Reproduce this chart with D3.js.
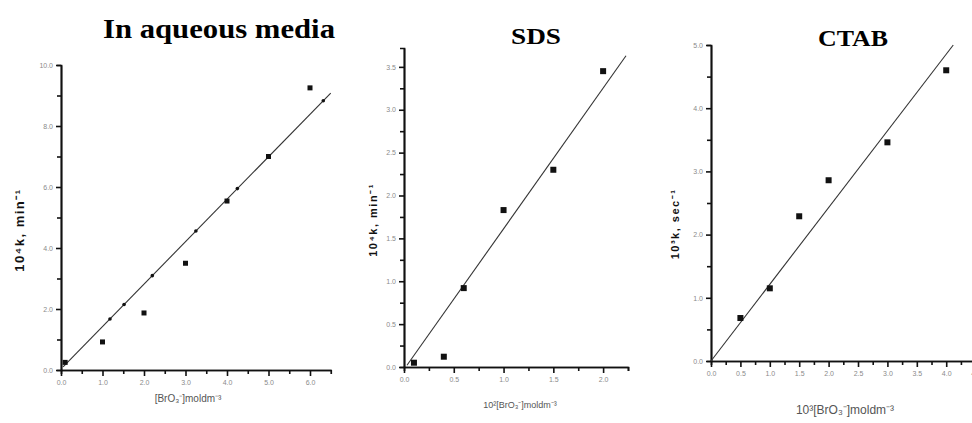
<!DOCTYPE html>
<html>
<head>
<meta charset="utf-8">
<style>
  body { margin: 0; background: #fff; }
  text { font-family: "Liberation Sans", Arial, sans-serif; }
</style>
</head>
<body>
<script src="https://d3js.org/d3.v7.min.js"></script>
<script>
    // aqueous media
    const aqX = [0.1, 1.0, 2.0, 3.0, 4.0, 5.0, 6.0];
    const aqY = [0.25, 0.92, 1.87, 3.5, 5.54, 7.0, 9.25];
    const aqFitX = [0.05, 6.5];
    const aqFitY = [0.1, 9.08];
    const aqFitDotsX = [1.18, 1.52, 2.2, 3.25, 4.25, 6.32];
    const aqXTicks = [0, 1, 2, 3, 4, 5, 6];
    const aqYTicks = [0, 2, 4, 6, 8, 10];

    // SDS
    const sdsX = [0.1, 0.4, 0.6, 1.0, 1.5, 2.0];
    const sdsY = [0.05, 0.12, 0.92, 1.83, 2.3, 3.45];
    const sdsFitX = [0.03, 2.23];
    const sdsFitY = [0.02, 3.63];
    const sdsXTicks = [0, 0.5, 1.0, 1.5, 2.0];
    const sdsYTicks = [0, 0.5, 1.0, 1.5, 2.0, 2.5, 3.0, 3.5];

    // CTAB
    const ctabX = [0.5, 1.0, 1.5, 2.0, 3.0, 4.0];
    const ctabY = [0.68, 1.15, 2.29, 2.86, 3.46, 4.6];
    const ctabFitX = [0, 4.12];
    const ctabFitY = [0, 5.0];
    const ctabXTicks = [0, 0.5, 1.0, 1.5, 2.0, 2.5, 3.0, 3.5, 4.0, 4.5];
    const ctabYTicks = [0, 1, 2, 3, 4, 5];

    const width = 972;
    const height = 423;

    const svg = d3.select("body")
        .append("svg")
        .attr("width", width)
        .attr("height", height);

    function panel(p) {
        const xScale = d3.scaleLinear().domain(p.xDomain).range(p.xRange);
        const yScale = d3.scaleLinear().domain(p.yDomain).range(p.yRange);
        const g = svg.append("g");

        // minor ticks
        const xAxisMinor = d3.axisBottom(xScale).tickValues(p.xMinor).tickSize(4).tickFormat("");
        const yAxisMinor = d3.axisLeft(yScale).tickValues(p.yMinor).tickSize(4).tickFormat("");
        const xAxis = d3.axisBottom(xScale).tickValues(p.xTicks).tickSize(6).tickPadding(4)
            .tickFormat(d3.format(".1f")).tickSizeOuter(0);
        const yAxis = d3.axisLeft(yScale).tickValues(p.yTicks).tickSize(5).tickPadding(3)
            .tickFormat(d3.format(".1f")).tickSizeOuter(0);

        [xAxisMinor, xAxis].forEach(ax => {
            g.append("g")
                .attr("transform", "translate(0," + p.yRange[0] + ")")
                .call(ax);
        });
        [yAxisMinor, yAxis].forEach(ax => {
            g.append("g")
                .attr("transform", "translate(" + p.xRange[0] + ",0)")
                .call(ax);
        });
        g.selectAll(".domain").attr("stroke", "#111").attr("stroke-width", 1.7);
        g.selectAll(".tick line").attr("stroke", "#111").attr("stroke-width", 1.6);
        g.selectAll(".tick text").attr("fill", "#8a8a8a").attr("font-size", p.tickFont);

        // fit line
        g.append("line")
            .attr("x1", xScale(p.fitX[0])).attr("y1", yScale(p.fitY[0]))
            .attr("x2", xScale(p.fitX[1])).attr("y2", yScale(p.fitY[1]))
            .attr("stroke", "#333").attr("stroke-width", 1.1);

        if (p.fitDots) {
            const slope = (p.fitY[1] - p.fitY[0]) / (p.fitX[1] - p.fitX[0]);
            g.selectAll("circle.fd")
                .data(p.fitDots)
                .enter()
                .append("circle")
                .attr("class", "fd")
                .attr("cx", d => xScale(d))
                .attr("cy", d => yScale(p.fitY[0] + slope * (d - p.fitX[0])))
                .attr("r", 1.8)
                .attr("fill", "#111");
        }

        // data squares
        g.selectAll("rect.pt")
            .data(p.xs.map((x, i) => [x, p.ys[i]]))
            .enter()
            .append("rect")
            .attr("class", "pt")
            .attr("x", d => xScale(d[0]) - p.size / 2)
            .attr("y", d => yScale(d[1]) - p.size / 2)
            .attr("width", p.size)
            .attr("height", p.size)
            .attr("fill", "#111");

        // title
        svg.append("text")
            .attr("x", p.title[1]).attr("y", p.title[2])
            .attr("text-anchor", "middle")
            .attr("font-weight", "bold")
            .attr("font-size", p.title[3])
            .attr("textLength", p.title[4])
            .attr("lengthAdjust", "spacingAndGlyphs")
            .style("font-family", "'Liberation Serif', serif")
            .text(p.title[0]);

        // y label
        svg.append("text")
            .attr("transform", "translate(" + p.yLabel[1] + "," + p.yLabel[2] + ") rotate(-90)")
            .attr("text-anchor", "middle")
            .attr("font-weight", "bold")
            .attr("font-size", p.yLabel[3])
            .attr("letter-spacing", 1.5)
            .attr("fill", "#111")
            .text(p.yLabel[0]);

        // x label
        svg.append("text")
            .attr("x", p.xLabel[1]).attr("y", p.xLabel[2])
            .attr("text-anchor", "middle")
            .attr("font-size", p.xLabel[3])
            .attr("fill", "#555")
            .text(p.xLabel[0]);
    }

    panel({
        xs: aqX, ys: aqY, fitX: aqFitX, fitY: aqFitY, fitDots: aqFitDotsX,
        xDomain: [0, 6.5], xRange: [61, 330.75],
        yDomain: [0, 10], yRange: [370, 65],
        xTicks: aqXTicks, yTicks: aqYTicks,
        xMinor: [0.5, 1.5, 2.5, 3.5, 4.5, 5.5], yMinor: [1, 3, 5, 7, 9],
        size: 5, tickFont: 7,
        title: ["In aqueous media", 219, 38, 28, 232],
        yLabel: ["10⁴k, min⁻¹", 24, 230, 13],
        xLabel: ["[BrO₃⁻]moldm⁻³", 188, 402, 10]
    });

    panel({
        xs: sdsX, ys: sdsY, fitX: sdsFitX, fitY: sdsFitY,
        xDomain: [0, 2.25], xRange: [404, 628],
        yDomain: [0, 3.72], yRange: [367, 48],
        xTicks: sdsXTicks, yTicks: sdsYTicks,
        xMinor: [0.25, 0.75, 1.25, 1.75, 2.25], yMinor: [0.25, 0.75, 1.25, 1.75, 2.25, 2.75, 3.25],
        size: 6, tickFont: 7,
        title: ["SDS", 536, 44, 23, 50],
        yLabel: ["10⁴k, min⁻¹", 377, 220, 11],
        xLabel: ["10²[BrO₃⁻]moldm⁻³", 520, 408, 9]
    });

    panel({
        xs: ctabX, ys: ctabY, fitX: ctabFitX, fitY: ctabFitY,
        xDomain: [0, 4.6], xRange: [711, 981.5],
        yDomain: [0, 5], yRange: [361, 45],
        xTicks: ctabXTicks, yTicks: ctabYTicks,
        xMinor: [0.25, 0.75, 1.25, 1.75, 2.25, 2.75, 3.25, 3.75, 4.25],
        yMinor: [0.5, 1.5, 2.5, 3.5, 4.5],
        size: 6, tickFont: 7,
        title: ["CTAB", 853, 46, 23, 70],
        yLabel: ["10³k, sec⁻¹", 679, 224, 11],
        xLabel: ["10³[BrO₃⁻]moldm⁻³", 845, 414, 12]
    });
</script>
</body>
</html>
